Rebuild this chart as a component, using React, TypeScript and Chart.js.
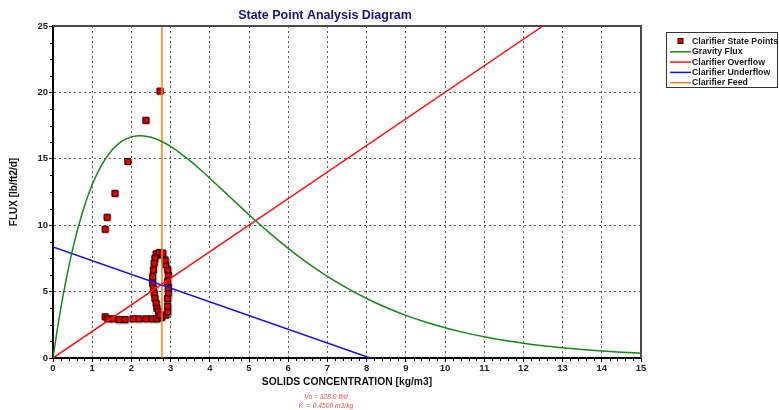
import React, { useEffect, useRef } from 'react';
import { Chart, registerables } from 'chart.js';

Chart.register(...registerables);

const FONT = '"Liberation Sans", Arial, Helvetica, sans-serif';

const chartTitle = 'State Point Analysis Diagram';
const xAxisTitle = 'SOLIDS CONCENTRATION [kg/m3]';
const yAxisTitle = 'FLUX [lb/ft2/d]';
const noteLines = ['Vo = 328.0 ft/d', 'K  = 0.4500 m3/kg'];

const xMin = 0;
const xMax = 15;
const xStep = 1;
const yMin = 0;
const yMax = 25;
const yStep = 5;

// Clarifier state points
const stateX = [
  2.73, 2.37, 1.91, 1.58, 1.38, 1.33,
  1.33, 1.40, 1.53, 1.68, 1.84, 2.04, 2.19, 2.37, 2.53, 2.65,
  2.77, 2.88, 2.92, 2.92, 2.92, 2.94, 2.94, 2.92, 2.94, 2.92, 2.87, 2.86, 2.77, 2.69,
  2.63, 2.60, 2.58, 2.56, 2.54, 2.54, 2.56, 2.58, 2.60, 2.63, 2.65, 2.69, 2.73,
  2.72, 2.80,
];
const stateY = [
  20.1, 17.9, 14.8, 12.4, 10.6, 9.7,
  3.1, 2.95, 2.95, 2.9, 2.9, 2.95, 2.95, 2.95, 2.95, 2.95,
  3.06, 3.24, 3.49, 3.92, 4.49, 4.92, 5.32, 5.75, 6.25, 6.68, 7.05, 7.38, 7.76, 7.88,
  7.83, 7.51, 7.13, 6.63, 6.12, 5.62, 5.25, 4.87, 4.49, 4.12, 3.74, 3.49, 3.24,
  7.95, 7.9,
];

// Gravity flux curve
const fluxX = [0, 0.1, 0.25, 0.5, 0.75, 1, 1.25, 1.5, 1.75, 2, 2.25, 2.5, 2.75, 3, 3.25, 3.5, 3.75, 4, 4.5, 5, 5.5, 6, 6.5, 7, 7.5, 8, 8.5, 9, 9.5, 10, 10.5, 11, 11.5, 12, 12.5, 13, 13.5, 14, 14.5, 15];
const fluxY = [0, 1.96, 4.58, 8.18, 10.96, 13.06, 14.58, 15.64, 16.31, 16.65, 16.74, 16.62, 16.34, 15.93, 15.41, 14.84, 14.21, 13.54, 12.16, 10.79, 9.48, 8.26, 7.14, 6.14, 5.26, 4.48, 3.80, 3.21, 2.71, 2.28, 1.91, 1.60, 1.33, 1.11, 0.92, 0.77, 0.64, 0.53, 0.44, 0.36];

// Overflow line
const overflowX = [0, 12.5];
const overflowY = [0, 25];

// Underflow line
const underflowX = [0, 8.09];
const underflowY = [8.36, 0];

// Feed line
const feedX = [2.78, 2.78];
const feedY = [0, 25];

const labels = ['Clarifier State Points', 'Gravity Flux', 'Clarifier Overflow', 'Clarifier Underflow', 'Clarifier Feed'];
const colors = ['#ee0000', '#138a13', '#ff1010', '#1010ff', '#ff8000'];

const toPts = (xs: number[], ys: number[]) => xs.map((x, i) => ({ x, y: ys[i] }));

const shadowPlugin = {
  id: 'pointShadow',
  beforeDatasetDraw(chart: any, args: any) {
    if (args.index === 0) {
      const ctx = chart.ctx;
      ctx.save();
      ctx.shadowColor = 'rgba(0,0,0,0.35)';
      ctx.shadowOffsetX = 1;
      ctx.shadowOffsetY = 1;
      ctx.shadowBlur = 1.5;
    }
  },
  afterDatasetDraw(chart: any, args: any) {
    if (args.index === 0) chart.ctx.restore();
  },
};

const decorPlugin = {
  id: 'decor',
  afterDraw(chart: any) {
    const ctx = chart.ctx as CanvasRenderingContext2D;
    const { left, right, top, bottom } = chart.chartArea;
    const xs = chart.scales.x;
    const ys = chart.scales.y;
    ctx.save();

    // frame top & right
    ctx.strokeStyle = '#4a4a4a';
    ctx.lineWidth = 2;
    ctx.beginPath();
    ctx.moveTo(left, top);
    ctx.lineTo(right, top);
    ctx.lineTo(right, bottom);
    ctx.stroke();

    // minor ticks
    ctx.strokeStyle = '#000';
    ctx.lineWidth = 1;
    ctx.beginPath();
    for (let i = 0; i <= (xMax - xMin) * 5; i++) {
      if (i % 5 === 0) continue;
      const px = Math.round(xs.getPixelForValue(xMin + i * 0.2)) + 0.5;
      ctx.moveTo(px, bottom);
      ctx.lineTo(px, bottom + 3);
    }
    for (let i = 0; i <= (yMax - yMin) / 1.25; i++) {
      if (i % 4 === 0) continue;
      const py = Math.round(ys.getPixelForValue(yMin + i * 1.25)) + 0.5;
      ctx.moveTo(left - 3, py);
      ctx.lineTo(left, py);
    }
    ctx.stroke();

    // title
    ctx.fillStyle = '#141482';
    ctx.font = `bold 12.5px ${FONT}`;
    ctx.textAlign = 'center';
    ctx.textBaseline = 'middle';
    ctx.fillText(chartTitle, 325, 16);

    // notes
    ctx.fillStyle = '#ff4a4a';
    ctx.font = `italic 6.7px ${FONT}`;
    ctx.fillText(noteLines[0], 326, 397);
    ctx.fillText(noteLines[1], 326, 406);

    // legend
    const lx = 666.5;
    const ly = 32.5;
    ctx.fillStyle = '#fff';
    ctx.fillRect(lx, ly, 111, 55);
    ctx.strokeStyle = '#333';
    ctx.lineWidth = 1;
    ctx.strokeRect(lx, ly, 111, 55);
    ctx.font = `bold 8.75px ${FONT}`;
    ctx.textAlign = 'left';
    ctx.textBaseline = 'middle';
    chart.data.datasets.forEach((ds: any, i: number) => {
      const cy = 41 + i * 10.3;
      if (i === 0) {
        ctx.fillStyle = ds.backgroundColor;
        ctx.fillRect(678, cy - 2.5, 5, 5);
        ctx.strokeStyle = '#300';
        ctx.strokeRect(678, cy - 2.5, 5, 5);
      } else {
        ctx.strokeStyle = ds.borderColor;
        ctx.lineWidth = 1.5;
        ctx.beginPath();
        ctx.moveTo(670, cy + 0.5);
        ctx.lineTo(691, cy + 0.5);
        ctx.stroke();
        ctx.lineWidth = 1;
      }
      ctx.fillStyle = '#1a1a1a';
      ctx.fillText(ds.label, 692, cy + 0.5);
    });

    ctx.restore();
  },
};

export default function App() {
  const ref = useRef<HTMLCanvasElement>(null);
  useEffect(() => {
    const canvas = ref.current!;
    const lineDs = (i: number, xs: number[], ys: number[], extra: any = {}) => ({
      label: labels[i],
      data: toPts(xs, ys),
      showLine: true,
      borderColor: colors[i],
      backgroundColor: colors[i],
      borderWidth: 1.5,
      pointRadius: 0,
      order: 1,
      ...extra,
    });
    const tickFont = { family: FONT, size: 9.5, weight: 'bold' as const };
    const chart = new Chart(canvas, {
      type: 'scatter',
      data: {
        datasets: [
          {
            label: labels[0],
            data: toPts(stateX, stateY),
            pointStyle: 'rect',
            pointRadius: 4.3,
            backgroundColor: colors[0],
            borderColor: '#2a0000',
            borderWidth: 1,
            order: 5,
          },
          lineDs(1, fluxX, fluxY, { cubicInterpolationMode: 'monotone' }),
          lineDs(2, overflowX, overflowY),
          lineDs(3, underflowX, underflowY),
          lineDs(4, feedX, feedY),
        ] as any,
      },
      options: {
        responsive: false,
        animation: false,
        devicePixelRatio: 1,
        events: [],
        layout: { padding: { top: 26, right: 138, left: 0, bottom: 0 } },
        plugins: {
          legend: { display: false },
          title: { display: false },
          tooltip: { enabled: false },
        },
        scales: {
          x: {
            type: 'linear',
            min: xMin,
            max: xMax,
            afterFit: (s: any) => { s.height = 52; },
            ticks: { stepSize: xStep, color: '#222', font: tickFont, padding: 1, maxRotation: 0 },
            grid: { color: '#5a5a5a', lineWidth: 1, tickColor: '#000', tickLength: 4 },
            border: { color: '#000', width: 2, dash: [2, 3] },
            title: {
              display: true,
              text: xAxisTitle,
              color: '#111',
              font: { family: FONT, size: 10.3, weight: 'bold' },
              padding: { top: 0, bottom: 22 },
            },
          },
          y: {
            type: 'linear',
            min: yMin,
            max: yMax,
            afterFit: (s: any) => { s.width = 53; },
            ticks: { stepSize: yStep, color: '#222', font: tickFont, padding: 1 },
            grid: { color: '#5a5a5a', lineWidth: 1, tickColor: '#000', tickLength: 4 },
            border: { color: '#000', width: 2, dash: [2, 3] },
            title: {
              display: true,
              text: yAxisTitle,
              color: '#111',
              font: { family: FONT, size: 10, weight: 'bold' },
              padding: { top: 8, bottom: 0 },
            },
          },
        },
      } as any,
      plugins: [shadowPlugin, decorPlugin],
    });
    return () => chart.destroy();
  }, []);
  return (
    <div style={{ position: 'fixed', left: 0, top: 0, width: 779, height: 410, background: '#fff' }}>
      <canvas ref={ref} width={779} height={410} style={{ display: 'block' }} />
    </div>
  );
}
